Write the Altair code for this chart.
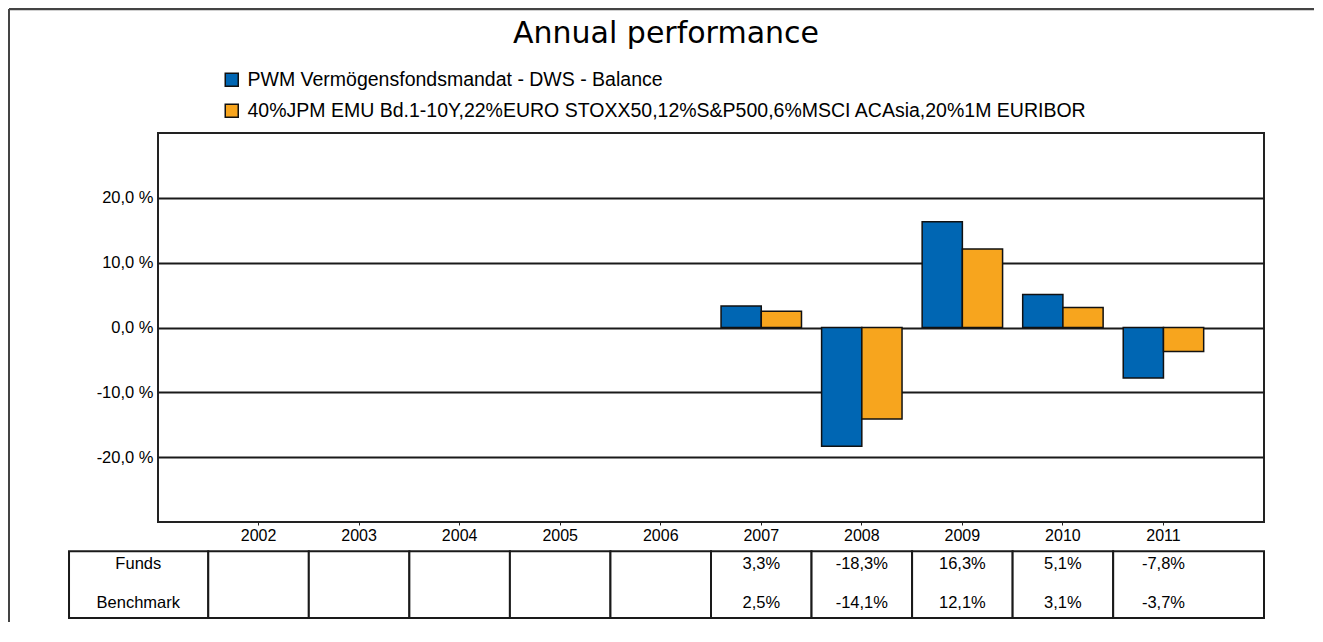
import altair as alt
import pandas as pd

# ---- data ----
years = [2002, 2003, 2004, 2005, 2006, 2007, 2008, 2009, 2010, 2011]
funds = [None, None, None, None, None, 3.3, -18.3, 16.3, 5.1, -7.8]
bench = [None, None, None, None, None, 2.5, -14.1, 12.1, 3.1, -3.7]
fund_name = "PWM Vermögensfondsmandat - DWS - Balance"
bench_name = "40%JPM EMU Bd.1-10Y,22%EURO STOXX50,12%S&P500,6%MSCI ACAsia,20%1M EURIBOR"
row_labels = ["Funds", "Benchmark"]
title_text = "Annual performance"

BLUE = "#0066B3"
ORANGE = "#F7A51E"
FONT = "Liberation Sans"

W, H = 1106, 389
YDOM = [-30, 30]
year_str = [str(y) for y in years]

# bars table (long format)
rows = []
for y, f, b in zip(years, funds, bench):
    if f is not None:
        rows.append({"year": str(y), "series": fund_name, "value": f})
    if b is not None:
        rows.append({"year": str(y), "series": bench_name, "value": b})
bars_df = pd.DataFrame(rows)

# table beneath the chart, in "column units" (one unit = one year step)
n = len(years)
TOP, BOTTOM = -34.5, -44.8
ROW_Y = [-36.5, -42.5]
cells = [{"u0": -0.885, "u1": 0.5}]
for i in range(n):
    cells.append({"u0": i + 0.5, "u1": (i + 1.5) if i < n - 1 else n + 1})
cells_df = pd.DataFrame(cells)
cells_df["top"] = TOP
cells_df["bottom"] = BOTTOM


def fmt(v):
    return f"{v:.1f}".replace(".", ",") + "%"


texts = []
for r, (lab, series) in enumerate(zip(row_labels, [funds, bench])):
    texts.append({"u": -0.196, "yv": ROW_Y[r], "txt": lab})
    for i, v in enumerate(series):
        if v is not None:
            texts.append({"u": i + 1, "yv": ROW_Y[r], "txt": fmt(v)})
texts_df = pd.DataFrame(texts)


def yscale():
    return alt.Scale(domain=YDOM, nice=False, zero=False)


def uscale():
    return alt.Scale(domain=[0, n + 1], nice=False, zero=False)


bars = alt.Chart(bars_df).mark_bar(stroke="#111", strokeWidth=1.5).encode(
    x=alt.X(
        "year:O",
        scale=alt.Scale(domain=year_str, paddingInner=0.2, paddingOuter=0.6),
        axis=alt.Axis(
            title=None, labelAngle=0, labelFont=FONT, labelFontSize=16,
            labelColor="black", domain=False, ticks=True, tickSize=3,
            tickColor="#222", labelPadding=2,
        ),
    ),
    xOffset=alt.XOffset("series:N", scale=alt.Scale(domain=[fund_name, bench_name])),
    y=alt.Y(
        "value:Q",
        scale=yscale(),
        axis=alt.Axis(
            title=None, values=[-20, -10, 0, 10, 20], grid=True,
            gridColor="#1a1a1a", gridWidth=2, domain=False, ticks=False,
            labelFont=FONT, labelFontSize=16.5, labelColor="black", labelPadding=5,
            labelExpr="(datum.value < 0 ? '-' : '') + replace(format(abs(datum.value), '.1f'), '.', ',') + ' %'",
        ),
    ),
    color=alt.Color(
        "series:N",
        scale=alt.Scale(domain=[fund_name, bench_name], range=[BLUE, ORANGE]),
        legend=alt.Legend(
            orient="none", legendX=64, legendY=-63, title=None,
            symbolType="square", symbolSize=169, symbolStrokeColor="#111",
            symbolStrokeWidth=1.5, labelFont=FONT, labelFontSize=19.5,
            labelColor="black", labelLimit=0, rowPadding=10, labelOffset=6,
            direction="vertical",
        ),
    ),
)

cells_layer = alt.Chart(cells_df).mark_rect(
    fill="white", stroke="#1a1a1a", strokeWidth=2
).encode(
    x=alt.X("u0:Q", scale=uscale(), axis=None),
    x2="u1:Q",
    y=alt.Y("top:Q", scale=yscale(), axis=None),
    y2="bottom:Q",
)

text_layer = alt.Chart(texts_df).mark_text(
    font=FONT, fontSize=16.5, color="black", baseline="middle", align="center"
).encode(
    x=alt.X("u:Q", scale=uscale(), axis=None),
    y=alt.Y("yv:Q", scale=yscale(), axis=None),
    text="txt:N",
)

title_layer = alt.Chart(pd.DataFrame({"t": [title_text]})).mark_text(
    font="DejaVu Sans", fontSize=30, color="black", baseline="middle", align="center"
).encode(x=alt.value(508), y=alt.value(-99), text="t:N")

frame_top = alt.Chart(pd.DataFrame({"a": [0]})).mark_rule(
    color="#444", strokeWidth=2.5
).encode(x=alt.value(-149), x2=alt.value(W + 50), y=alt.value(-124))

frame_left = alt.Chart(pd.DataFrame({"a": [0]})).mark_rule(
    color="#444", strokeWidth=2
).encode(x=alt.value(-149), y=alt.value(-124), y2=alt.value(H + 100))

chart = alt.layer(
    bars, cells_layer, text_layer, title_layer, frame_top, frame_left
).resolve_scale(x="independent", y="independent").properties(
    width=W,
    height=H,
    background="white",
    autosize=alt.AutoSizeParams(type="none"),
    padding={"left": 150, "top": 125, "right": 50, "bottom": 100},
).configure_view(stroke="#222", strokeWidth=2)

chart.save("out.html", embed_options={"renderer": "svg", "actions": False})
